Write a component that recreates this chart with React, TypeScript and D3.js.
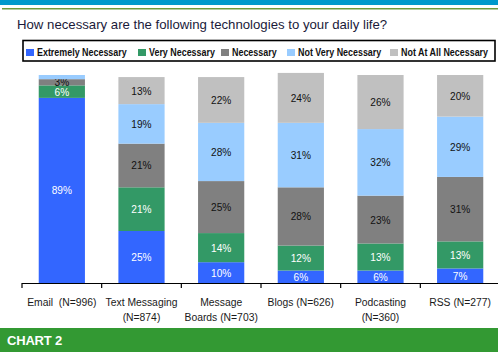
import React from "react";
import * as d3 from "d3";

const categories = ["Email  (N=996)", "Text Messaging\n(N=874)", "Message\nBoards (N=703)", "Blogs (N=626)", "Podcasting\n(N=360)", "RSS (N=277)"];
const seriesNames = ["Extremely Necessary", "Very Necessary", "Necessary", "Not Very Necessary", "Not At All Necessary"];
const extremely = [89, 25, 10, 6, 6, 7];
const very = [6, 21, 14, 12, 13, 13];
const necessary = [3, 21, 25, 28, 23, 31];
const notVery = [2, 19, 28, 31, 32, 29];
const notAtAll = [0, 13, 22, 24, 26, 20];
const colors = ["#3366FF", "#339966", "#808080", "#99CCFF", "#C0C0C0"];
const labelColors = ["#ffffff", "#ffffff", "#111111", "#111111", "#111111"];

const W = 498, H = 352;
const FONT = "Arial, 'Liberation Sans', sans-serif";

export default function App() {
  const series = [extremely, very, necessary, notVery, notAtAll];
  const rows = categories.map((c, i) => {
    const r: any = { cat: c };
    seriesNames.forEach((s, k) => (r[s] = series[k][i]));
    return r;
  });
  const stacked = d3.stack<any>().keys(seriesNames)(rows);

  const x = d3.scaleBand().domain(categories).range([22, 500]).paddingInner(0.42).paddingOuter(0.21);
  const xEdge = d3.scaleLinear().domain([0, categories.length]).range([22, 500]);
  const y = d3.scaleLinear().domain([0, 100]).range([283, 75]);

  const legendX = [26, 138, 221, 287, 390];

  return (
    <svg width={W} height={H} style={{ position: "absolute", left: 0, top: 0, background: "#fff" }} fontFamily={FONT}>
      <rect x={0} y={0} width={W} height={5} fill="#0099CC" />
      <rect x={2} y={8} width={W - 2} height={1.5} fill="#6E9A3C" />
      <text x={17} y={29} fontSize={13.2} fill="#1a1a3a">How necessary are the following technologies to your daily life?</text>

      <rect x={23} y={40.5} width={472} height={20.5} fill="none" stroke="#000" strokeWidth={1.6} />
      {seriesNames.map((s, k) => (
        <g key={s}>
          <rect x={legendX[k]} y={49} width={8} height={7} fill={colors[k]} />
          <text x={legendX[k] + 11} y={55.8} fontSize={10.5} fontWeight="bold" fill="#111" transform={`translate(${(legendX[k] + 11) * 0.15},0) scale(0.85,1)`}>{s}</text>
        </g>
      ))}

      {stacked.map((layer, k) => (
        <g key={layer.key}>
          {layer.map((d, i) => {
            const x0 = x(categories[i])!;
            const bw = x.bandwidth();
            const y0 = y(d[0]), y1 = y(d[1]);
            const v = d[1] - d[0];
            const cx = x0 + bw / 2;
            return (
              <g key={i}>
                {v > 0 && <rect x={x0} y={y1} width={bw} height={y0 - y1} fill={colors[k]} />}
                {v >= 3 && (
                  <text x={cx} y={(y0 + y1) / 2 + 4} textAnchor="middle" fontSize={11.5} fill={labelColors[k]} transform={`translate(${cx * 0.12},0) scale(0.88,1)`}>{v}%</text>
                )}
              </g>
            );
          })}
        </g>
      ))}

      <line x1={22} x2={W} y1={283.5} y2={283.5} stroke="#000" strokeWidth={1.2} />
      {d3.range(categories.length).map((i) => (
        <line key={i} x1={xEdge(i)} x2={xEdge(i)} y1={283} y2={288} stroke="#000" strokeWidth={1.2} />
      ))}
      {categories.map((c, i) => {
        const cx = x(c)! + x.bandwidth() / 2;
        return (
          <text key={c} textAnchor="middle" fontSize={11.5} fill="#1a1a1a" transform={`translate(${cx * 0.1},0) scale(0.9,1)`}>
            {c.split("\n").map((line, j) => (
              <tspan key={j} x={cx} y={306 + j * 15} xmlSpace="preserve">{line}</tspan>
            ))}
          </text>
        );
      })}

      <rect x={0} y={328} width={W} height={24} fill="#339933" />
      <text x={7} y={344.5} fontSize={13} fontWeight={900} fill="#fff" letterSpacing={-0.2}>CHART 2</text>
    </svg>
  );
}
